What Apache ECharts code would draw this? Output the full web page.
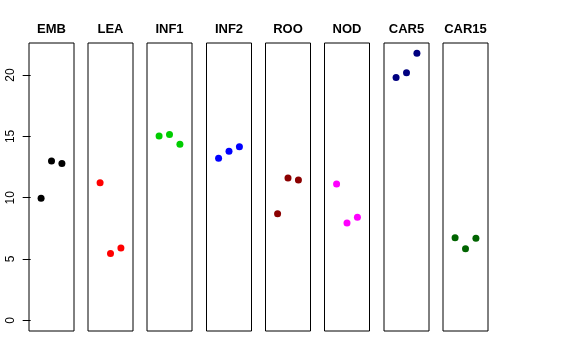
<!DOCTYPE html>
<html><head><meta charset="utf-8">
<script src="https://cdn.jsdelivr.net/npm/echarts@6/dist/echarts.min.js"></script>
<style>html,body{margin:0;padding:0;background:#fff}#c{width:576px;height:360px}</style>
</head><body><div id="c"></div>
<script>
const panels = ["EMB","LEA","INF1","INF2","ROO","NOD","CAR5","CAR15"];
const colors = ["#000000","#FF0000","#00CD00","#0000FF","#8B0000","#FF00FF","#000080","#006400"];
const EMB = [9.95, 13.0, 12.8];
const LEA = [11.23, 5.45, 5.89];
const INF1 = [15.04, 15.15, 14.36];
const INF2 = [13.22, 13.79, 14.15];
const ROO = [8.69, 11.61, 11.45];
const NOD = [11.12, 7.93, 8.40];
const CAR5 = [19.81, 20.2, 21.78];
const CAR15 = [6.73, 5.83, 6.70];
const values = [EMB, LEA, INF1, INF2, ROO, NOD, CAR5, CAR15];
const yTicks = [0, 5, 10, 15, 20];

const lefts = [29, 88, 147, 206.5, 265.5, 324.5, 384, 443];
const W = 45, TOP = 43, H = 288;
const grid = [], xAxis = [], yAxis = [], series = [], graphic = [];
panels.forEach((name, i) => {
  grid.push({left: lefts[i], top: TOP, width: W, height: H, show: true, borderColor: '#000', borderWidth: 1, backgroundColor: 'transparent'});
  xAxis.push({gridIndex: i, type: 'value', min: -0.16, max: 4.16, show: false});
  const first = i === 0;
  yAxis.push({gridIndex: i, type: 'value', min: -0.87, max: 22.62,
    splitLine: {show: false}, axisLine: {show: false},
    axisTick: {show: first, length: 8, lineStyle: {color: '#000'}, customValues: yTicks},
    axisLabel: {show: first, rotate: 90, margin: 12, color: '#000', fontFamily: 'Liberation Sans', fontSize: 12, customValues: yTicks, formatter: v => String(v)}
  });
  series.push({type: 'scatter', xAxisIndex: i, yAxisIndex: i, symbol: 'circle', symbolSize: 7,
    itemStyle: {color: colors[i], opacity: 1}, silent: true, animation: false,
    data: values[i].map((v, k) => [k + 1, v])});
  graphic.push({type: 'text', x: lefts[i] + W / 2, y: 29,
    style: {text: name, align: 'center', verticalAlign: 'middle', fill: '#000',
      font: 'bold 13px "Liberation Sans"'}});
});
const chart = echarts.init(document.getElementById('c'), null, {renderer: 'canvas'});
chart.setOption({animation: false, backgroundColor: '#fff', graphic, grid, xAxis, yAxis, series});
</script></body></html>
